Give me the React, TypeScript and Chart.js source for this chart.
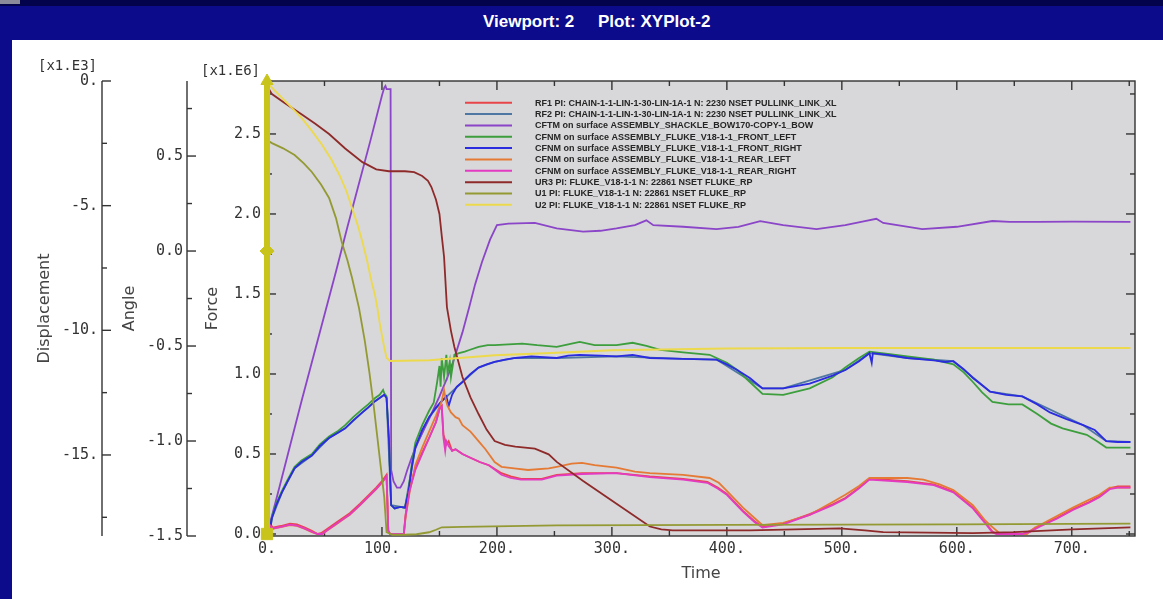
import React, { useEffect, useRef } from 'react';
import { Chart, registerables } from 'chart.js';

Chart.register(...registerables);

// ---------- axis ticks ----------
const timeMajor = [0, 100, 200, 300, 400, 500, 600, 700];
const timeMinor = [50, 150, 250, 350, 450, 550, 650, 750];
const forceMajor = [0, 0.5, 1.0, 1.5, 2.0, 2.5];
const forceMinor = [0.25, 0.75, 1.25, 1.75, 2.25, 2.75];
const angleMajor = [-1.5, -1.0, -0.5, 0, 0.5];
const angleMinor = [-1.25, -0.75, -0.25, 0.25, 0.75];
const dispMajor = [0, -5, -10, -15];
const dispMinor = [-2.5, -7.5, -12.5, -17.5];

// axis ranges
const TIME_MIN = 0, TIME_MAX = 755;
const FORCE_MIN = -0.0125, FORCE_MAX = 2.831;
const ANGLE_MIN = -1.5, ANGLE_MAX = 0.895;
const DISP_MIN = -18.25, DISP_MAX = 0;

// ---------- legend labels ----------
const seriesLabels = [
  'RF1 PI: CHAIN-1-1-LIN-1-30-LIN-1A-1 N: 2230 NSET PULLINK_LINK_XL',
  'RF2 PI: CHAIN-1-1-LIN-1-30-LIN-1A-1 N: 2230 NSET PULLINK_LINK_XL',
  'CFTM on surface ASSEMBLY_SHACKLE_BOW170-COPY-1_BOW',
  'CFNM on surface ASSEMBLY_FLUKE_V18-1-1_FRONT_LEFT',
  'CFNM on surface ASSEMBLY_FLUKE_V18-1-1_FRONT_RIGHT',
  'CFNM on surface ASSEMBLY_FLUKE_V18-1-1_REAR_LEFT',
  'CFNM on surface ASSEMBLY_FLUKE_V18-1-1_REAR_RIGHT',
  'UR3 PI: FLUKE_V18-1-1 N: 22861 NSET FLUKE_RP',
  'U1 PI: FLUKE_V18-1-1 N: 22861 NSET FLUKE_RP',
  'U2 PI: FLUKE_V18-1-1 N: 22861 NSET FLUKE_RP',
];

// ---------- series values [time, value] ----------
// Forces (x1.E6)
const rf1: [number, number][] = [
  [0, 0], [1, 0.02], [3, 0.06], [5, 0.04], [12, 0.05], [20, 0.065], [26, 0.06], [33, 0.04], [39, 0.02], [44, 0],
  [47, 0.005], [52, 0.03], [60, 0.07], [66, 0.1], [72, 0.13], [81, 0.19], [88, 0.24], [95, 0.29], [100, 0.33],
  [104, 0.37], [105.5, 0.02], [107, 0], [119, 0], [120.5, 0.12], [124, 0.28], [129, 0.41], [135, 0.51], [141, 0.6],
  [147, 0.7], [150, 0.78], [152, 0.8], [153.5, 0.62], [156, 0.56], [158, 0.58], [161, 0.52], [164, 0.53], [170, 0.5],
  [176, 0.48], [185, 0.45], [193, 0.43], [204, 0.38], [212, 0.36], [221, 0.345], [239, 0.345], [252, 0.37],
  [274, 0.38], [304, 0.38], [333, 0.36], [362, 0.345], [383, 0.325], [392, 0.29], [400, 0.25], [414, 0.145],
  [424, 0.08], [431, 0.045], [449, 0.065], [472, 0.125], [492, 0.185], [503, 0.225], [515, 0.29], [524, 0.345],
  [557, 0.33], [580, 0.31], [597, 0.265], [614, 0.165], [625, 0.07], [631, 0.015], [635, 0], [657, 0], [664, 0.02],
  [672, 0.05], [687, 0.1], [701, 0.155], [715, 0.2], [724, 0.235], [733, 0.285], [740, 0.297], [751, 0.297],
];
const rf2: [number, number][] = [
  [0, 0], [4.3, 0.1], [13, 0.26], [24, 0.41], [39, 0.49], [54, 0.6], [68, 0.66], [83, 0.76], [94, 0.83], [102, 0.87],
  [104, 0.85], [108, 0.18], [120, 0.165], [129, 0.54], [141, 0.73], [152, 0.83], [170, 0.95], [184, 1.04],
  [198, 1.075], [216, 1.1], [252, 1.1], [304, 1.11], [362, 1.095], [391, 1.09], [431, 0.91], [449, 0.91],
  [503, 1.025], [524, 1.13], [557, 1.1], [597, 1.08], [629, 0.89], [657, 0.86], [710, 0.68], [730, 0.58], [751, 0.575],
];
const cftm: [number, number][] = [
  [0, 0], [2, 0.05], [10, 0.27], [20, 0.55], [30, 0.83], [40, 1.1], [50, 1.37], [60, 1.64], [70, 1.92], [80, 2.19],
  [90, 2.46], [100, 2.74], [102, 2.79], [103, 2.8], [104, 2.78], [107.5, 2.78], [108, 0.4], [110, 0.33], [113, 0.29],
  [116, 0.29], [119, 0.33], [122, 0.4], [126, 0.48], [131, 0.57], [137, 0.66], [143, 0.75], [150, 0.86], [157, 0.98],
  [163, 1.1], [170, 1.26], [176, 1.42], [181, 1.56], [187, 1.7], [194, 1.84], [200, 1.93], [210, 1.94], [233, 1.944],
  [252, 1.91], [275, 1.89], [290, 1.895], [304, 1.91], [320, 1.93], [330, 1.96], [336, 1.93], [362, 1.92],
  [391, 1.905], [410, 1.92], [429, 1.955], [449, 1.93], [478, 1.905], [503, 1.93], [520, 1.955], [530, 1.97],
  [536, 1.944], [570, 1.905], [600, 1.92], [631, 1.956], [646, 1.95], [670, 1.95], [701, 1.952], [751, 1.95],
];
const frontLeft: [number, number][] = [
  [0, 0], [1.5, 0.1], [3, 0.03], [4.3, 0.11], [8, 0.19], [13, 0.27], [18, 0.34], [24, 0.42], [30, 0.46], [39, 0.5],
  [46, 0.56], [54, 0.61], [61, 0.64], [68, 0.68], [75, 0.73], [83, 0.78], [88, 0.81], [94, 0.85], [98, 0.87],
  [101, 0.9], [102, 0.88], [104, 0.86], [106, 0.6], [108, 0.18], [111, 0.16], [116, 0.17], [120, 0.165], [123, 0.27],
  [126, 0.44], [129, 0.57], [135, 0.68], [141, 0.77], [145, 0.82], [148, 0.95], [150, 1.05], [151, 0.92], [152, 1.1],
  [154, 0.98], [156, 1.12], [157, 1.0], [159, 1.08], [160, 0.98], [163, 1.12], [167, 1.13], [172, 1.14], [176, 1.15],
  [184, 1.17], [192, 1.18], [198, 1.18], [210, 1.185], [222, 1.19], [235, 1.18], [252, 1.17], [262, 1.185],
  [272, 1.2], [285, 1.18], [304, 1.18], [318, 1.195], [330, 1.175], [342, 1.15], [362, 1.135], [385, 1.12],
  [391, 1.1], [400, 1.07], [409, 1.025], [420, 0.95], [431, 0.875], [449, 0.87], [472, 0.91], [492, 0.98],
  [503, 1.04], [515, 1.1], [524, 1.14], [540, 1.125], [557, 1.11], [580, 1.09], [597, 1.06], [606, 1.01], [614, 0.95],
  [622, 0.885], [631, 0.825], [645, 0.81], [657, 0.81], [670, 0.75], [682, 0.69], [692, 0.66], [713, 0.62],
  [722, 0.58], [730, 0.54], [740, 0.54], [751, 0.54],
];
const frontRight: [number, number][] = [
  [0, 0], [1.5, 0.15], [2.5, 0.02], [4.3, 0.1], [8, 0.18], [13, 0.26], [18, 0.33], [24, 0.41], [30, 0.45], [39, 0.49],
  [46, 0.55], [54, 0.6], [61, 0.63], [68, 0.66], [75, 0.71], [83, 0.76], [88, 0.79], [94, 0.83], [98, 0.85],
  [102, 0.87], [104, 0.85], [106, 0.6], [108, 0.18], [111, 0.16], [116, 0.17], [120, 0.165], [123, 0.26], [126, 0.42],
  [129, 0.54], [135, 0.65], [141, 0.73], [147, 0.79], [152, 0.83], [156, 0.86], [158, 0.8], [161, 0.87], [165, 0.92],
  [170, 0.95], [177, 1.0], [184, 1.04], [191, 1.06], [198, 1.075], [207, 1.09], [216, 1.1], [230, 1.11], [252, 1.1],
  [262, 1.115], [272, 1.12], [290, 1.115], [304, 1.11], [318, 1.12], [333, 1.1], [362, 1.095], [391, 1.09],
  [400, 1.06], [409, 1.025], [420, 0.975], [431, 0.91], [449, 0.91], [472, 0.94], [492, 0.99], [503, 1.025],
  [515, 1.08], [524, 1.13], [526, 1.07], [527, 1.13], [540, 1.12], [557, 1.1], [580, 1.085], [590, 1.075],
  [597, 1.08], [606, 1.03], [614, 0.975], [622, 0.93], [629, 0.89], [643, 0.87], [657, 0.86], [670, 0.81],
  [681, 0.76], [695, 0.72], [710, 0.68], [720, 0.65], [730, 0.58], [740, 0.575], [751, 0.575],
];
const rearLeft: [number, number][] = [
  [0, 0], [1, 0.01], [3, 0.05], [5, 0.033], [12, 0.043], [20, 0.056], [26, 0.051], [33, 0.032], [39, 0.012], [44, 0],
  [48, 0], [52, 0.02], [60, 0.06], [66, 0.09], [72, 0.12], [81, 0.18], [88, 0.23], [95, 0.28], [100, 0.32],
  [104, 0.358], [105.5, 0.02], [107, 0], [119, 0], [120.5, 0.1], [124, 0.26], [129, 0.43], [135, 0.54], [141, 0.64],
  [147, 0.74], [152, 0.83], [154, 0.9], [155.5, 0.84], [157, 0.8], [160, 0.76], [164, 0.73], [167, 0.72], [170, 0.68],
  [177, 0.64], [184, 0.58], [190, 0.53], [198, 0.45], [204, 0.42], [215, 0.41], [227, 0.4], [245, 0.41], [252, 0.42],
  [265, 0.44], [274, 0.445], [285, 0.43], [304, 0.415], [320, 0.39], [333, 0.38], [362, 0.37], [385, 0.35],
  [393, 0.32], [400, 0.27], [414, 0.165], [424, 0.1], [431, 0.055], [449, 0.07], [472, 0.12], [492, 0.2],
  [503, 0.245], [515, 0.3], [524, 0.35], [557, 0.35], [571, 0.34], [585, 0.31], [597, 0.275], [614, 0.18],
  [624, 0.09], [629, 0.055], [638, 0], [661, 0], [668, 0.04], [672, 0.055], [701, 0.165], [724, 0.245],
  [733, 0.29], [751, 0.29],
];
const rearRight: [number, number][] = [
  [0, 0], [1, 0.01], [3, 0.05], [5, 0.035], [12, 0.045], [20, 0.058], [26, 0.053], [33, 0.034], [39, 0.014], [44, 0],
  [48, 0], [52, 0.022], [60, 0.062], [66, 0.092], [72, 0.122], [81, 0.182], [88, 0.232], [95, 0.282], [100, 0.322],
  [104, 0.36], [105.5, 0.02], [107, 0], [119, 0], [120.5, 0.11], [124, 0.27], [129, 0.4], [135, 0.5], [141, 0.6],
  [147, 0.7], [150, 0.78], [152, 0.8], [153.5, 0.6], [155, 0.52], [156, 0.58], [158, 0.55], [161, 0.52], [164, 0.53],
  [170, 0.5], [176, 0.48], [185, 0.45], [193, 0.43], [204, 0.37], [212, 0.35], [221, 0.34], [239, 0.34],
  [252, 0.365], [274, 0.375], [304, 0.38], [333, 0.355], [362, 0.34], [383, 0.32], [392, 0.285], [400, 0.245],
  [414, 0.14], [424, 0.075], [431, 0.04], [449, 0.06], [472, 0.12], [492, 0.18], [503, 0.22], [515, 0.285],
  [524, 0.34], [557, 0.325], [580, 0.305], [597, 0.26], [614, 0.16], [625, 0.065], [631, 0.01], [635, 0], [657, 0],
  [664, 0.015], [672, 0.045], [687, 0.095], [701, 0.15], [715, 0.195], [724, 0.23], [733, 0.28], [740, 0.29],
  [751, 0.29],
];
// Angle
const ur3: [number, number][] = [
  [0, 0], [1, 0.86], [4.3, 0.826], [15, 0.78], [30, 0.72], [42, 0.67], [54, 0.616], [68, 0.54], [83, 0.468],
  [95, 0.43], [106, 0.42], [120, 0.42], [128, 0.415], [135, 0.395], [140, 0.37], [143, 0.337], [147, 0.27],
  [150, 0.195], [152, 0.08], [154, -0.03], [156.5, -0.295], [160, -0.42], [163, -0.505], [170, -0.663], [177, -0.77],
  [184, -0.858], [191, -0.94], [198, -1.0], [207, -1.02], [216, -1.03], [233, -1.04], [245, -1.07], [252, -1.11],
  [275, -1.21], [304, -1.33], [333, -1.45], [343, -1.465], [353, -1.47], [420, -1.47], [498, -1.46], [520, -1.47],
  [536, -1.48], [614, -1.485], [650, -1.48], [701, -1.465], [751, -1.455],
];
// Displacement (x1.E3)
const u1: [number, number][] = [
  [0, 0], [1, -2.4], [4.3, -2.49], [14, -2.7], [24, -2.97], [32, -3.3], [39, -3.65], [47, -4.15], [54, -4.69],
  [60, -5.5], [65, -6.46], [70, -7.2], [74, -7.9], [80, -9.1], [85, -10.4], [89, -11.67], [93, -13.1], [96, -14.3],
  [99, -15.5], [102, -16.7], [104, -18.1], [109, -18.2], [120, -18.2], [130, -18.18], [141, -18.1], [147, -18.0],
  [152, -17.9], [170, -17.88], [252, -17.82], [400, -17.8], [600, -17.78], [751, -17.75],
];
const u2: [number, number][] = [
  [0, 0], [1, -0.05], [2, -0.16], [7, -0.4], [13, -0.68], [21, -1.05], [30, -1.48], [39, -2.0], [48, -2.57],
  [56, -3.15], [63, -3.77], [69, -4.4], [74, -5.1], [79, -5.8], [83, -6.46], [87, -7.2], [91, -8.06], [94, -8.6],
  [96, -9.1], [98, -9.7], [100, -10.2], [102, -10.7], [104, -11.1], [107, -11.23], [141, -11.2], [170, -11.1],
  [198, -11.0], [252, -10.9], [300, -10.8], [400, -10.73], [500, -10.71], [751, -10.71],
];

// current-time marker (time and the value each axis marks there)
const markerTime = 0;
const markerForce = 0;
const markerAngle = 0;
const markerDisp = 0;

// ---------- styles ----------
const COLORS = ['#e8454a', '#4f77a3', '#8a45c8', '#3c9e3c', '#2b2be0', '#e57a35', '#e33bc2', '#8e2a2a', '#939a34', '#ecd94c'];
const AXES = ['yF', 'yF', 'yF', 'yF', 'yF', 'yF', 'yF', 'yA', 'yD', 'yD'];
const ORDERS = [11, 12, 10, 9, 8, 7, 6, 5, 4, 3];
const MARKER_COLOR = '#c9c41c';
const PLOT_BG = '#d8d7d9';
const INK = '#333';

const seriesData = [rf1, rf2, cftm, frontLeft, frontRight, rearLeft, rearRight, ur3, u1, u2];

const toXY = (pairs: [number, number][]) => pairs.map(([x, y]) => ({ x, y }));

function drawTickSet(ctx: CanvasRenderingContext2D, pos: number[], fixed: number, len: number, vertical: boolean) {
  pos.forEach((p) => {
    ctx.beginPath();
    if (vertical) {
      ctx.moveTo(fixed, p);
      ctx.lineTo(fixed + len, p);
    } else {
      ctx.moveTo(p, fixed);
      ctx.lineTo(p, fixed + len);
    }
    ctx.stroke();
  });
}

const framePlugin = {
  id: 'abaqusFrame',
  beforeDraw(chart: any) {
    const { ctx, chartArea: a } = chart;
    ctx.save();
    ctx.fillStyle = PLOT_BG;
    ctx.fillRect(a.left, a.top, a.right - a.left, a.bottom - a.top);
    ctx.restore();
  },
  beforeDatasetsDraw(chart: any) {
    const { ctx, chartArea: a, scales } = chart;
    const sx = scales.x, sF = scales.yF, sA = scales.yA, sD = scales.yD;
    ctx.save();
    ctx.strokeStyle = INK;
    ctx.lineWidth = 1.4;
    // plot frame
    ctx.strokeRect(a.left, a.top, a.right - a.left, a.bottom - a.top);
    // displacement & angle axis lines
    [sD, sA].forEach((s: any) => {
      ctx.beginPath();
      ctx.moveTo(s.right, a.top);
      ctx.lineTo(s.right, a.bottom);
      ctx.stroke();
    });
    const px = (s: any, vals: number[]) => vals.map((v) => s.getPixelForValue(v));
    // displacement ticks
    drawTickSet(ctx, px(sD, dispMajor), sD.right, 9, true);
    drawTickSet(ctx, px(sD, dispMinor), sD.right, 5, true);
    // angle ticks
    drawTickSet(ctx, px(sA, angleMajor), sA.right, 9, true);
    drawTickSet(ctx, px(sA, angleMinor), sA.right, 5, true);
    // force ticks, left & right borders
    drawTickSet(ctx, px(sF, forceMajor), a.left, 9, true);
    drawTickSet(ctx, px(sF, forceMinor), a.left, 5, true);
    drawTickSet(ctx, px(sF, forceMajor), a.right, -9, true);
    drawTickSet(ctx, px(sF, forceMinor), a.right, -5, true);
    // time ticks, bottom & top borders
    drawTickSet(ctx, px(sx, timeMajor), a.bottom, -9, false);
    drawTickSet(ctx, px(sx, timeMinor), a.bottom, -5, false);
    drawTickSet(ctx, px(sx, timeMajor), a.top, 9, false);
    drawTickSet(ctx, px(sx, timeMinor), a.top, 5, false);
    ctx.restore();
  },
  afterDraw(chart: any) {
    const { ctx, chartArea: a, scales } = chart;
    ctx.save();
    ctx.fillStyle = INK;
    ctx.font = '14px "DejaVu Sans Mono", monospace';
    ctx.textAlign = 'right';
    ctx.textBaseline = 'middle';
    ctx.fillText('[x1.E3]', scales.yD.right - 5, a.top - 15);
    ctx.fillText('[x1.E6]', scales.yF.right - 7, a.top - 10);

    // legend
    const x0 = 453, y0 = 62.7, dy = 11.35;
    ctx.font = 'bold 9px "Liberation Sans", Arial, sans-serif';
    ctx.textAlign = 'left';
    let row = 0;
    chart.data.datasets.forEach((ds: any) => {
      if (!ds.label) return;
      const y = y0 + row * dy;
      ctx.strokeStyle = ds.borderColor;
      ctx.lineWidth = 2;
      ctx.beginPath();
      ctx.moveTo(x0, y);
      ctx.lineTo(x0 + 47, y);
      ctx.stroke();
      ctx.fillStyle = '#262626';
      ctx.fillText(ds.label, x0 + 70, y + 0.5);
      row++;
    });
    ctx.restore();
  },
};

const tickFont = { family: '"DejaVu Sans Mono", monospace', size: 15 };
const titleFont = { family: '"DejaVu Sans", sans-serif', size: 16 };

function setTicks(values: number[]) {
  return (scale: any) => {
    scale.ticks = values.map((v) => ({ value: v }));
  };
}

export default function App() {
  const canvasRef = useRef<HTMLCanvasElement | null>(null);

  useEffect(() => {
    if (!canvasRef.current) return;
    const datasets: any[] = seriesLabels.map((label, i) => ({
      label,
      data: toXY(seriesData[i]),
      borderColor: COLORS[i],
      backgroundColor: COLORS[i],
      borderWidth: 1.8,
      pointRadius: 0,
      tension: 0,
      fill: false,
      yAxisID: AXES[i],
      order: ORDERS[i],
    }));
    datasets.push(
      {
        data: [{ x: markerTime, y: FORCE_MIN }, { x: markerTime, y: FORCE_MAX }],
        borderColor: MARKER_COLOR,
        borderWidth: 6,
        pointRadius: 0,
        yAxisID: 'yF',
        order: 1,
        clip: false,
      },
      {
        data: [{ x: markerTime, y: markerForce }],
        showLine: false,
        pointStyle: 'rect',
        pointRadius: 8,
        backgroundColor: MARKER_COLOR,
        borderColor: MARKER_COLOR,
        yAxisID: 'yF',
        order: 0,
        clip: false,
      },
      {
        data: [{ x: markerTime, y: markerAngle }],
        showLine: false,
        pointStyle: 'rectRot',
        pointRadius: 7,
        backgroundColor: MARKER_COLOR,
        borderColor: MARKER_COLOR,
        yAxisID: 'yA',
        order: 0,
        clip: false,
      },
      {
        data: [{ x: markerTime, y: markerDisp }],
        showLine: false,
        pointStyle: 'triangle',
        pointRadius: 7,
        backgroundColor: MARKER_COLOR,
        borderColor: MARKER_COLOR,
        yAxisID: 'yD',
        order: 0,
        clip: false,
      },
    );

    const chart = new Chart(canvasRef.current, {
      type: 'line',
      data: { datasets },
      options: {
        responsive: false,
        animation: false,
        devicePixelRatio: 1,
        layout: { padding: { left: 0, top: 41, right: 28, bottom: 0 } },
        plugins: { legend: { display: false }, tooltip: { enabled: false } },
        scales: {
          x: {
            type: 'linear',
            position: 'bottom',
            min: TIME_MIN,
            max: TIME_MAX,
            afterBuildTicks: setTicks(timeMajor),
            afterFit: (s: any) => { s.height = 63; },
            grid: { display: false, drawTicks: false },
            border: { display: false },
            ticks: { font: tickFont, color: INK, padding: 4, maxRotation: 0, autoSkip: false, callback: (v: any) => `${v}.` },
            title: { display: true, text: 'Time', font: titleFont, color: '#444', padding: { top: 0, bottom: 16 } },
          },
          yD: {
            type: 'linear',
            position: 'left',
            weight: 2,
            min: DISP_MIN,
            max: DISP_MAX,
            afterBuildTicks: setTicks(dispMajor),
            afterFit: (s: any) => { s.width = 90; },
            grid: { display: false, drawTicks: false },
            border: { display: false },
            ticks: { font: tickFont, color: INK, padding: 4, autoSkip: false, callback: (v: any) => `${v}.` },
            title: { display: true, text: 'Displacement', font: titleFont, color: '#444', padding: { top: 23, bottom: 0 } },
          },
          yA: {
            type: 'linear',
            position: 'left',
            weight: 1,
            min: ANGLE_MIN,
            max: ANGLE_MAX,
            afterBuildTicks: setTicks(angleMajor),
            afterFit: (s: any) => { s.width = 85; },
            grid: { display: false, drawTicks: false },
            border: { display: false },
            ticks: { font: tickFont, color: INK, padding: 4, autoSkip: false, callback: (v: any) => Number(v).toFixed(1) },
            title: { display: true, text: 'Angle', font: titleFont, color: '#444', padding: { top: 18, bottom: 0 } },
          },
          yF: {
            type: 'linear',
            position: 'left',
            weight: 0,
            min: FORCE_MIN,
            max: FORCE_MAX,
            afterBuildTicks: setTicks(forceMajor),
            afterFit: (s: any) => { s.width = 80; },
            grid: { display: false, drawTicks: false },
            border: { display: false },
            ticks: { font: tickFont, color: INK, padding: 6, autoSkip: false, callback: (v: any) => Number(v).toFixed(1) },
            title: { display: true, text: 'Force', font: titleFont, color: '#444', padding: { top: 16, bottom: 0 } },
          },
        },
      },
      plugins: [framePlugin],
    } as any);
    return () => chart.destroy();
  }, []);

  const navy = '#0b0b8c';
  return (
    <div style={{ position: 'fixed', left: 0, top: 0, width: 1163, height: 599, background: '#fff', overflow: 'hidden' }}>
      <div style={{ position: 'absolute', left: 0, top: 0, width: 1163, height: 6, background: '#03034c' }} />
      <div style={{ position: 'absolute', left: 0, top: 0, width: 20, height: 4, background: '#8a8a9a' }} />
      <div style={{ position: 'absolute', left: 0, top: 6, width: 1163, height: 34, background: navy }} />
      <div style={{ position: 'absolute', left: 0, top: 40, width: 12, height: 559, background: navy }} />
      <div
        style={{
          position: 'absolute', left: 483, top: 12, color: '#fff', whiteSpace: 'pre',
          font: 'bold 17px "Liberation Sans", Arial, sans-serif', lineHeight: '20px',
        }}
      >
        Viewport: 2
      </div>
      <div
        style={{
          position: 'absolute', left: 598, top: 12, color: '#fff', whiteSpace: 'pre',
          font: 'bold 17px "Liberation Sans", Arial, sans-serif', lineHeight: '20px',
        }}
      >
        Plot: XYPlot-2
      </div>
      <div style={{ position: 'absolute', left: 12, top: 40, width: 1151, height: 559 }}>
        <canvas ref={canvasRef} width={1151} height={559} style={{ display: 'block', width: 1151, height: 559 }} />
      </div>
    </div>
  );
}
